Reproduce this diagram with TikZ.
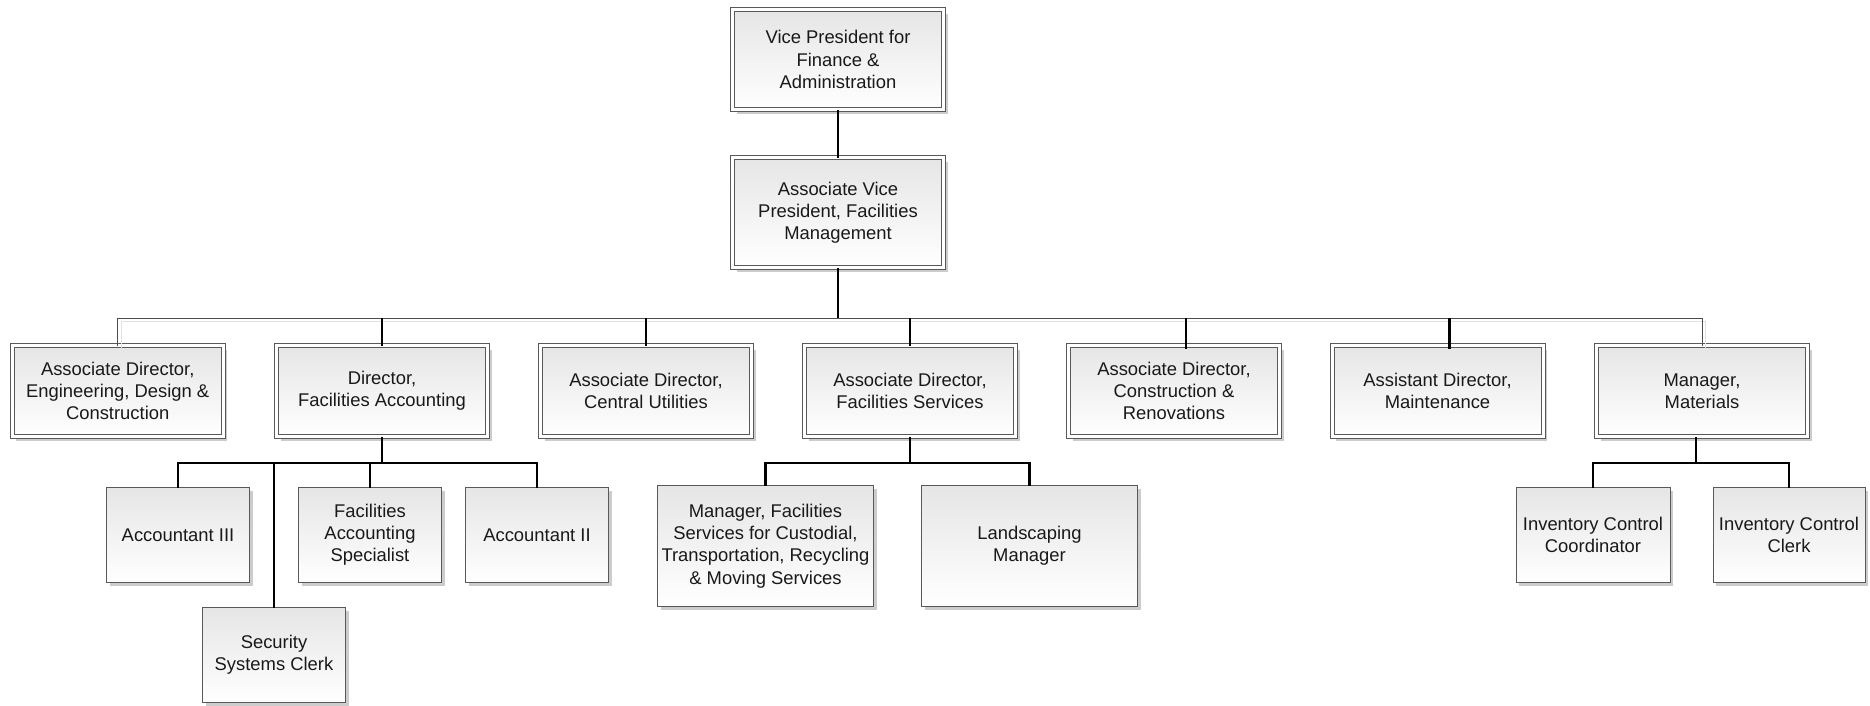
\documentclass[tikz,border=0pt]{standalone}
\usepackage{fontspec}
\setmainfont{Liberation Sans}
\usepackage{tikz}
\usetikzlibrary{calc,positioning,shadows}

\begin{document}
\begin{tikzpicture}[x=1pt,y=-1pt,
        font=\fontsize{18.4}{22.2}\selectfont,
        headbox/.style={rectangle,draw=black!65,double,double distance=3pt,line width=1pt,
            top color=black!10,bottom color=white,text=black!90,align=center,
            inner sep=0pt,outer sep=0pt,minimum width=211pt,minimum height=91pt,
            drop shadow={shadow xshift=4pt,shadow yshift=-4pt,fill=black,opacity=0.2}},
        staffbox/.style={rectangle,draw=black!65,line width=1pt,
            top color=black!10,bottom color=white,text=black!90,align=center,
            inner sep=0pt,outer sep=0pt,minimum width=143pt,minimum height=95pt,
            drop shadow={shadow xshift=3pt,shadow yshift=-3pt,fill=black,opacity=0.2}},
        thicklink/.style={line width=2.6pt,black},
        thinlink/.style={line width=1pt,black!70,
            preaction={draw=black!12,transform canvas={xshift=3pt,yshift=-3pt}}}]
        \useasboundingbox (0,0) rectangle (1870,705);

        %\draw (0,0) rectangle (1870,705);
        \node[headbox,minimum height=100pt] (vp) at (838,59.5) {Vice President for\\Finance \&\\Administration};
        \node[headbox,minimum height=110pt] (avp) at (838,212.5) {Associate Vice\\President, Facilities\\Management};

        \node[headbox] (edc) at (117.7,391) {Associate Director,\\Engineering, Design \&\\Construction};
        \node[headbox] (fa) at (382,391) {Director,\\Facilities Accounting};
        \node[headbox] (cu) at (646,391) {Associate Director,\\Central Utilities};
        \node[headbox] (fs) at (910,391) {Associate Director,\\Facilities Services};
        \node[headbox] (cr) at (1174,391) {Associate Director,\\Construction \&\\Renovations};
        \node[headbox] (mt) at (1437.5,391) {Assistant Director,\\Maintenance};
        \node[headbox] (mm) at (1702,391) {Manager,\\Materials};

        \node[staffbox] (acc3) at (178,535) {Accountant III};
        \node[staffbox] (ssc) at (274,655) {Security\\Systems Clerk};
        \node[staffbox] (fas) at (370,535) {Facilities\\Accounting\\Specialist};
        \node[staffbox] (acc2) at (537,535) {Accountant II};
        \node[staffbox,minimum width=216pt,minimum height=121pt] (mfs) at (765.5,546) {Manager, Facilities\\Services for Custodial,\\Transportation, Recycling\\\& Moving Services};
        \node[staffbox,minimum width=216pt,minimum height=121pt] (lm) at (1029.5,546) {Landscaping\\Manager};
        \node[staffbox,minimum width=154pt] (icc) at (1593,535) {Inventory Control\\Coordinator};
        \node[staffbox,minimum width=152pt] (icl) at (1789,535) {Inventory Control\\Clerk};

        \coordinate (top) at (0,318);
        \coordinate (sub) at (0,463);
        \draw[thicklink] (vp) -- (avp);
        \draw[thinlink] (edc.north) -- (edc.north |- top) -- (mm.north |- top) -- (mm.north);
        \draw[thicklink] (avp.south) -- (avp.south |- top);
        \foreach \n in {fa,cu,fs}
            \draw[thicklink] (\n.north |- top) -- (\n.north);
        \foreach \n in {cr,mt}
            \draw[thicklink] ($(\n.north |- top)+(12,0)$) -- ($(\n.north)+(12,3)$);

        \draw[thicklink] (fa.south) -- (fa.south |- sub);
        \draw[thicklink] (acc3.north) -- (acc3.north |- sub) -- (acc2.north |- sub) -- (acc2.north);
        \foreach \n in {ssc,fas}
            \draw[thicklink] (\n.north |- sub) -- (\n.north);

        \draw[thicklink] (fs.south) -- (fs.south |- sub);
        \draw[thicklink] (mfs.north) -- (mfs.north |- sub) -- (lm.north |- sub) -- (lm.north);

        \draw[thicklink] ($(mm.south)+(-6,0)$) -- ($(mm.south |- sub)+(-6,0)$);
        \draw[thicklink] (icc.north) -- (icc.north |- sub) -- (icl.north |- sub) -- (icl.north);

\end{tikzpicture}
\end{document}
